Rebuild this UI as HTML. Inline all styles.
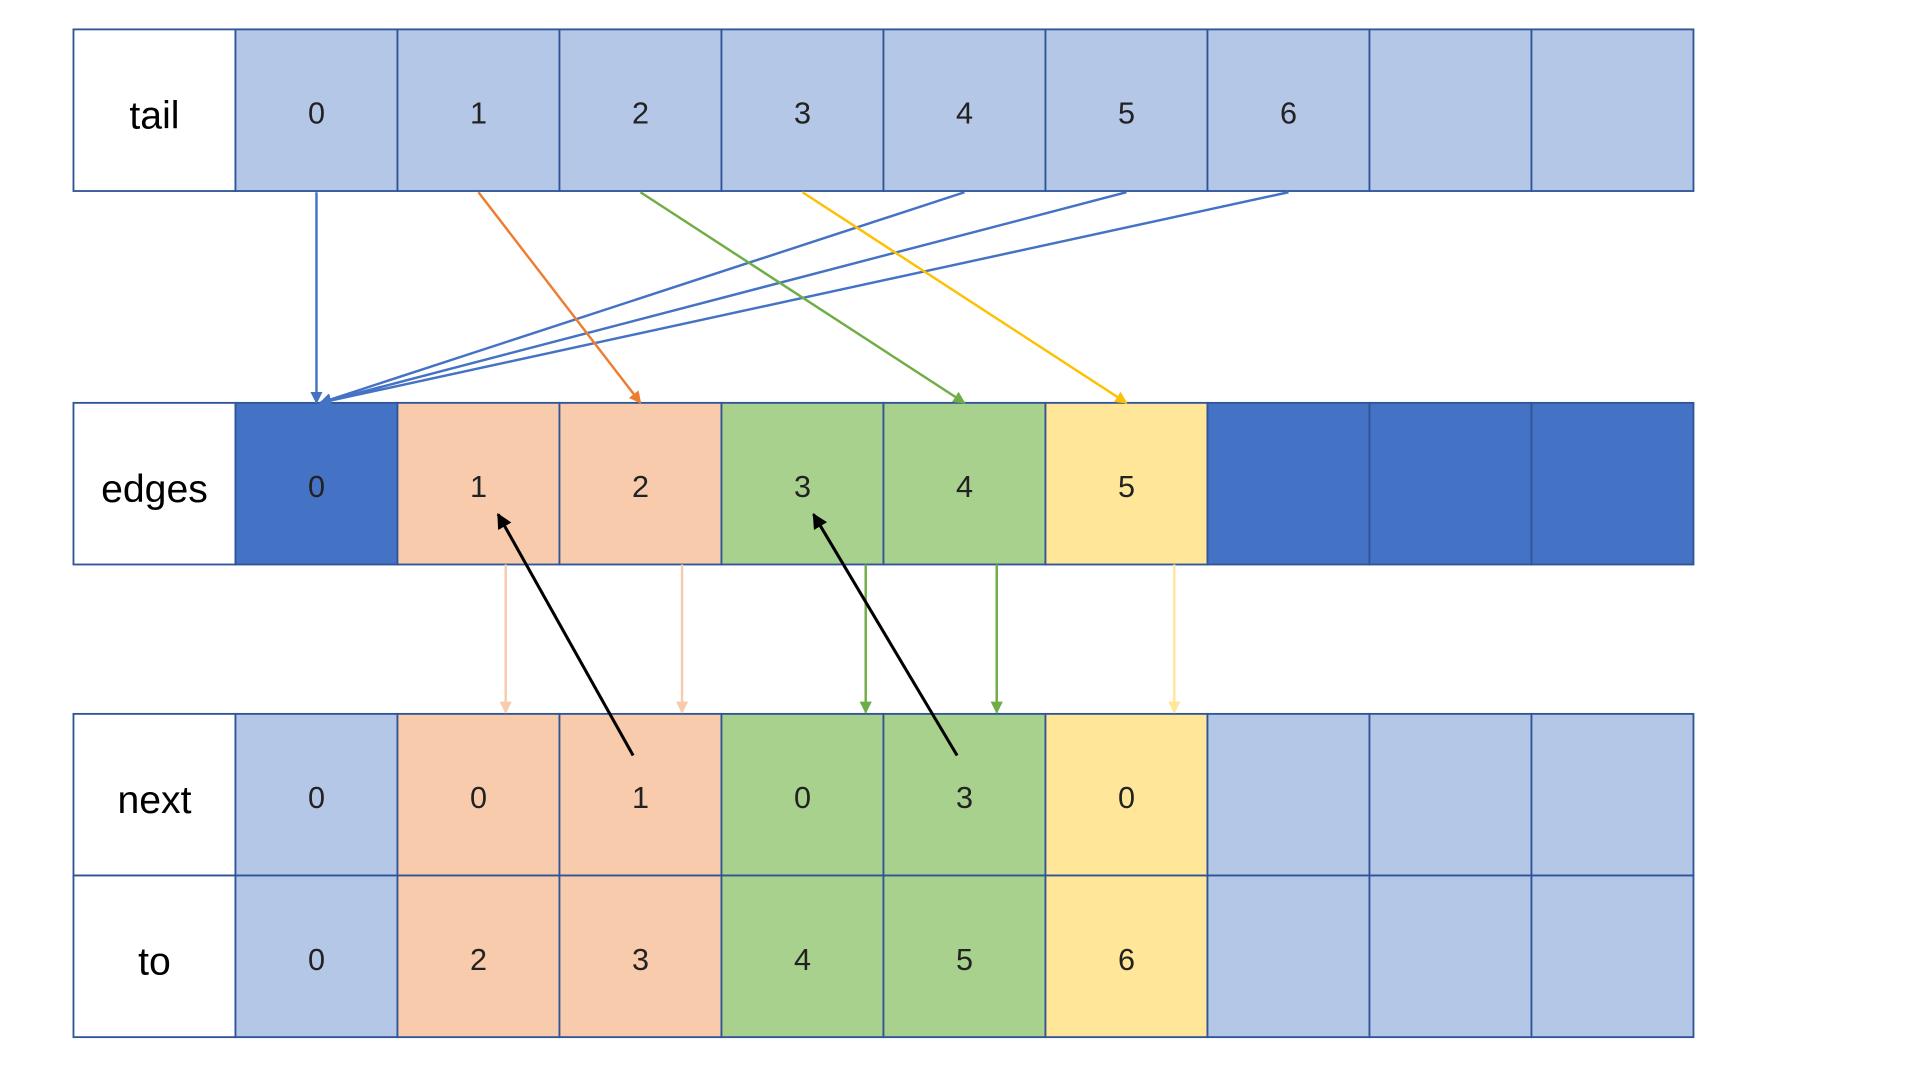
<!DOCTYPE html>
<html><head><meta charset="utf-8">
<style>
html,body{margin:0;padding:0;background:#fff;width:1920px;height:1080px;overflow:hidden}
svg{display:block}
text{font-family:"Liberation Sans",sans-serif}
</style></head>
<body>
<svg id="chart" width="1920" height="1080" viewBox="0 0 1568 882" preserveAspectRatio="none" xmlns="http://www.w3.org/2000/svg">
<defs>
<marker id="ah" viewBox="0 0 10 10" refX="9" refY="5" markerWidth="5" markerHeight="5" orient="auto-start-reverse"><path d="M0,0 L10,5 L0,10 z" fill="context-stroke"/></marker>
</defs>
<g id="cells"></g>
<g id="arrows"></g>
</svg>
<script>
const rowNames = ["tail","edges","next","to"];
const tailValues = ["0","1","2","3","4","5","6","",""];
const edgesValues = ["0","1","2","3","4","5","","",""];
const nextValues = ["0","0","1","0","3","0","","",""];
const toValues = ["0","2","3","4","5","6","","",""];
const tailColors = ["lb","lb","lb","lb","lb","lb","lb","lb","lb"];
const edgesColors = ["db","pe","pe","gr","gr","ye","db","db","db"];
const nextColors = ["lb","pe","pe","gr","gr","ye","lb","lb","lb"];
// arrows: [fromRow, fromCol, toCol, color]
const headArrows = [[0,0,0,"b"],[0,4,0,"b"],[0,5,0,"b"],[0,6,0,"b"],[0,1,2,"o"],[0,2,4,"g"],[0,3,5,"y"]];
const downArrows = [[1,"p"],[2,"p"],[3,"g"],[4,"g"],[5,"ly"]];
const nextLinks = [[2,1],[4,3]];

const pal={lb:"#B4C7E7",db:"#4472C4",pe:"#F8CBAD",gr:"#A9D18E",ye:"#FFE699",
 b:"#4472C4",o:"#ED7D31",g:"#70AD47",y:"#FFC000",p:"#F8CBAD",ly:"#FFE699"};
const X0=60, LW=132.3, CW=132.3;
const rowTop=[24,329,583,715], RH=132;
const colX=c=>X0+LW+c*CW;
const NS="http://www.w3.org/2000/svg";
const cg=document.getElementById('cells'), ag=document.getElementById('arrows');
function mk(tag,attrs,parent){const e=document.createElementNS(NS,tag);for(const k in attrs)e.setAttribute(k,attrs[k]);parent.appendChild(e);return e;}
const vals=[tailValues,edgesValues,nextValues,toValues];
const cols=[tailColors,edgesColors,nextColors,nextColors];
rowNames.forEach((nm,r)=>{
  const y=rowTop[r];
  const lab=mk('rect',{x:X0,y:y,width:LW,height:RH,fill:"#fff",stroke:"#2F5597","stroke-width":1.5},cg);
  
  
  const t=mk('text',{x:X0+LW/2,y:y+RH/2+15,"text-anchor":"middle","font-size":32,fill:"#000"},cg);
  t.textContent=nm;
  
  
  vals[r].forEach((v,c)=>{
    const rc=mk('rect',{x:colX(c),y:y,width:CW,height:RH,fill:pal[cols[r][c]],stroke:"#2F5597","stroke-width":1.5},cg);
    
    
    if(v!==""){
      const tt=mk('text',{x:colX(c)+CW/2,y:y+RH/2+11,"text-anchor":"middle","font-size":25,fill:"#222"},cg);
      tt.textContent=v;
      
      
    }
  });
});
const cx=c=>colX(c)+CW/2;
headArrows.forEach(a=>{
  const [fr,fc,tc,col]=a;
  const x2=tc===0&&fc!==0?cx(tc)+3:cx(tc);
  const l=mk('line',{x1:cx(fc),y1:rowTop[0]+RH+1,x2:x2,y2:rowTop[1],stroke:pal[col],"stroke-width":2,"marker-end":"url(#ah)"},ag);
  
  
});
const downX=[0,413,557,707,814,959];
downArrows.forEach(a=>{
  const [c,col]=a;
  const l=mk('line',{x1:downX[c],y1:rowTop[1]+RH,x2:downX[c],y2:rowTop[2]-1,stroke:pal[col],"stroke-width":2,"marker-end":"url(#ah)"},ag);
  
  
});
nextLinks.forEach(a=>{
  const [from,to]=a;
  const off=from===2?16:9;
  const l=mk('line',{x1:cx(from)-6,y1:617,x2:cx(to)+off,y2:420,stroke:"#000","stroke-width":2.5,"marker-end":"url(#ah)"},ag);
  
  
});
</script>
</body></html>
